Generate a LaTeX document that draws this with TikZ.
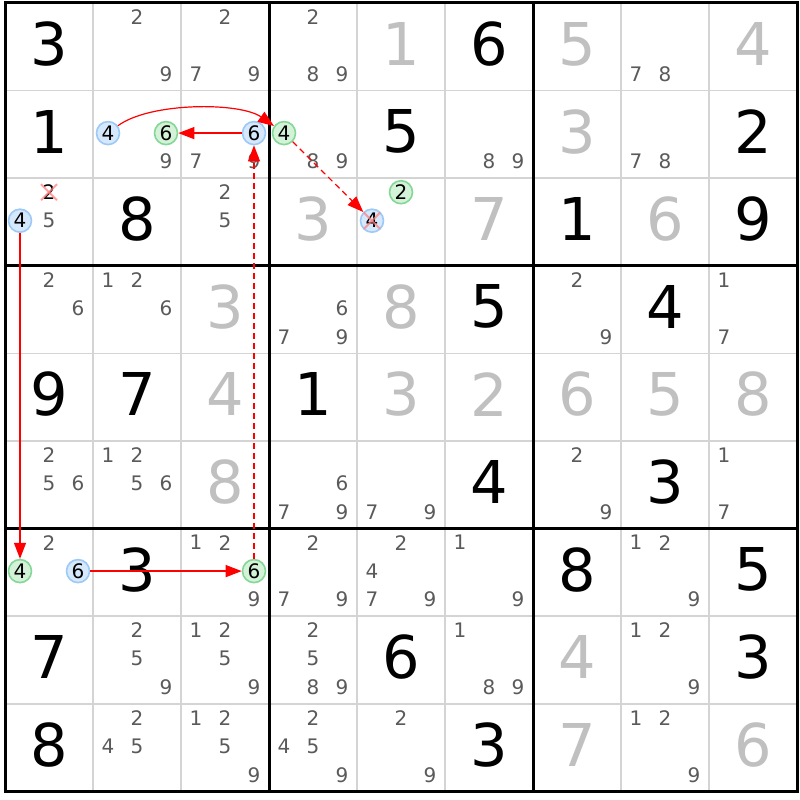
\documentclass[tikz,border=0pt]{standalone}
\usepackage{fontspec}
\setmainfont{DejaVu Sans}
\usetikzlibrary{arrows.meta}
\definecolor{gridthin}{HTML}{D4D4D4}
\definecolor{candc}{HTML}{5A5A5A}
\definecolor{solvc}{HTML}{C0C0C0}
\definecolor{bluefill}{HTML}{D6E8FB}
\definecolor{blueline}{HTML}{9CC9F7}
\definecolor{greenfill}{HTML}{D4F2D8}
\definecolor{greenline}{HTML}{84D896}
\definecolor{xred}{HTML}{FF8080}
\tikzset{
 bigdig/.style={font=\fontsize{59}{61}\selectfont, inner sep=0pt},
 givendig/.style={bigdig, text=black},
 solvdig/.style={bigdig, text=solvc},
 cand/.style={font=\fontsize{20}{22}\selectfont, text=candc, inner sep=0pt},
 ringc/.style={circle, line width=1.6pt, minimum size=23pt, inner sep=0pt, font=\fontsize{20}{22}\selectfont, text=black},
 bluec/.style={ringc, draw=blueline, fill=bluefill},
 greenc/.style={ringc, draw=greenline, fill=greenfill},
 darkc/.style={cand, text=black},
 thinline/.style={gridthin, line width=1.5pt},
 thickline/.style={black, line width=3pt},
 link/.style={red, line width=1.2pt, -{Triangle[length=16pt,width=12pt]}},
 weak/.style={link, dash pattern=on 6pt off 4pt},
 xmark/.style={xred, line width=2pt, opacity=0.75},
}
\newcommand\Gv[3]{\node[givendig] (g#1#2) at ({49+#2*88},{800-(3+#1*87.6+41)}) {#3};}
\newcommand\Sv[3]{\node[solvdig] (g#1#2) at ({49+#2*88},{800-(3+#1*87.6+41)}) {#3};}
\newcommand\Cd[3]{\foreach \dd in {#3}{%
  \pgfmathsetmacro\cx{5+#2*88+15+mod(\dd-1,3)*29}%
  \pgfmathsetmacro\cy{800-(3+#1*87.6+14+floor((\dd-1)/3)*28.5)}%
  \node[cand] (c#1#2\dd) at (\cx,\cy) {\dd};}}
\newcommand\Cc[4]{%
  \pgfmathsetmacro\cx{5+#2*88+15+mod(#3-1,3)*29}%
  \pgfmathsetmacro\cy{800-(3+#1*87.6+14+floor((#3-1)/3)*28.5)}%
  \node[#4] (c#1#2#3) at (\cx,\cy) {#3};}
\begin{document}
\begin{tikzpicture}[x=1pt,y=1pt]
\useasboundingbox (0,0) rectangle (800,800);
\fill[white] (0,0) rectangle (800,800);
% thin grid
\foreach \i in {1,2,4,5,7,8}{
  \draw[thinline] ({5+\i*88},797) -- ({5+\i*88},{800-791.4});
  \draw[thinline] (5,{800-(3+\i*87.6)}) -- (797,{800-(3+\i*87.6)});
}
% thick grid
\foreach \i in {3,6}{
  \draw[thickline] ({5+\i*88},797) -- ({5+\i*88},{800-791.4});
  \draw[thickline] (5,{800-(3+\i*87.6)}) -- (797,{800-(3+\i*87.6)});
}
\draw[thickline] (5,797) rectangle (797,{800-791.4});
% row 0
\Gv{0}{0}{3} \Cd{0}{1}{2,9} \Cd{0}{2}{2,7,9} \Cd{0}{3}{2,8,9} \Sv{0}{4}{1} \Gv{0}{5}{6} \Sv{0}{6}{5} \Cd{0}{7}{7,8} \Sv{0}{8}{4}
% row 1
\Gv{1}{0}{1} \Cc{1}{1}{4}{bluec} \Cc{1}{1}{6}{greenc} \Cd{1}{1}{9} \Cc{1}{2}{6}{bluec} \Cd{1}{2}{7,9} \Cc{1}{3}{4}{greenc} \Cd{1}{3}{8,9} \Gv{1}{4}{5} \Cd{1}{5}{8,9} \Sv{1}{6}{3} \Cd{1}{7}{7,8} \Gv{1}{8}{2}
% row 2
\Cc{2}{0}{2}{darkc} \Cd{2}{0}{5} \Cc{2}{0}{4}{bluec} \Gv{2}{1}{8} \Cd{2}{2}{2,5} \Sv{2}{3}{3} \Cc{2}{4}{2}{greenc} \Cc{2}{4}{4}{bluec} \Sv{2}{5}{7} \Gv{2}{6}{1} \Sv{2}{7}{6} \Gv{2}{8}{9}
% row 3
\Cd{3}{0}{2,6} \Cd{3}{1}{1,2,6} \Sv{3}{2}{3} \Cd{3}{3}{6,7,9} \Sv{3}{4}{8} \Gv{3}{5}{5} \Cd{3}{6}{2,9} \Gv{3}{7}{4} \Cd{3}{8}{1,7}
% row 4
\Gv{4}{0}{9} \Gv{4}{1}{7} \Sv{4}{2}{4} \Gv{4}{3}{1} \Sv{4}{4}{3} \Sv{4}{5}{2} \Sv{4}{6}{6} \Sv{4}{7}{5} \Sv{4}{8}{8}
% row 5
\Cd{5}{0}{2,5,6} \Cd{5}{1}{1,2,5,6} \Sv{5}{2}{8} \Cd{5}{3}{6,7,9} \Cd{5}{4}{7,9} \Gv{5}{5}{4} \Cd{5}{6}{2,9} \Gv{5}{7}{3} \Cd{5}{8}{1,7}
% row 6
\Cd{6}{0}{2} \Cc{6}{0}{4}{greenc} \Cc{6}{0}{6}{bluec} \Gv{6}{1}{3} \Cd{6}{2}{1,2,9} \Cc{6}{2}{6}{greenc} \Cd{6}{3}{2,7,9} \Cd{6}{4}{2,4,7,9} \Cd{6}{5}{1,9} \Gv{6}{6}{8} \Cd{6}{7}{1,2,9} \Gv{6}{8}{5}
% row 7
\Gv{7}{0}{7} \Cd{7}{1}{2,5,9} \Cd{7}{2}{1,2,5,9} \Cd{7}{3}{2,5,8,9} \Gv{7}{4}{6} \Cd{7}{5}{1,8,9} \Sv{7}{6}{4} \Cd{7}{7}{1,2,9} \Gv{7}{8}{3}
% row 8
\Gv{8}{0}{8} \Cd{8}{1}{2,4,5} \Cd{8}{2}{1,2,5,9} \Cd{8}{3}{2,4,5,9} \Cd{8}{4}{2,9} \Gv{8}{5}{3} \Sv{8}{6}{7} \Cd{8}{7}{1,2,9} \Sv{8}{8}{6}
% eliminations
\draw[xmark] ([shift={(-8,-8)}]c202.center) -- ([shift={(8,8)}]c202.center);
\draw[xmark] ([shift={(-8,8)}]c202.center) -- ([shift={(8,-8)}]c202.center);
\draw[xmark] ([shift={(-8,-8)}]c244.center) -- ([shift={(8,8)}]c244.center);
\draw[xmark] ([shift={(-8,8)}]c244.center) -- ([shift={(8,-8)}]c244.center);
% links
\coordinate (k1) at (150,698);
\coordinate (k2) at (240,698);
\draw[link] (c114) .. controls (k1) and (k2) .. (c134);
\draw[link] (c126) -- (c116);
\draw[weak] (c134) -- (c244);
\draw[link] (c204) -- (c604);
\draw[link] (c606) -- (c626);
\draw[weak] (c626) -- (c126);
\end{tikzpicture}
\end{document}
